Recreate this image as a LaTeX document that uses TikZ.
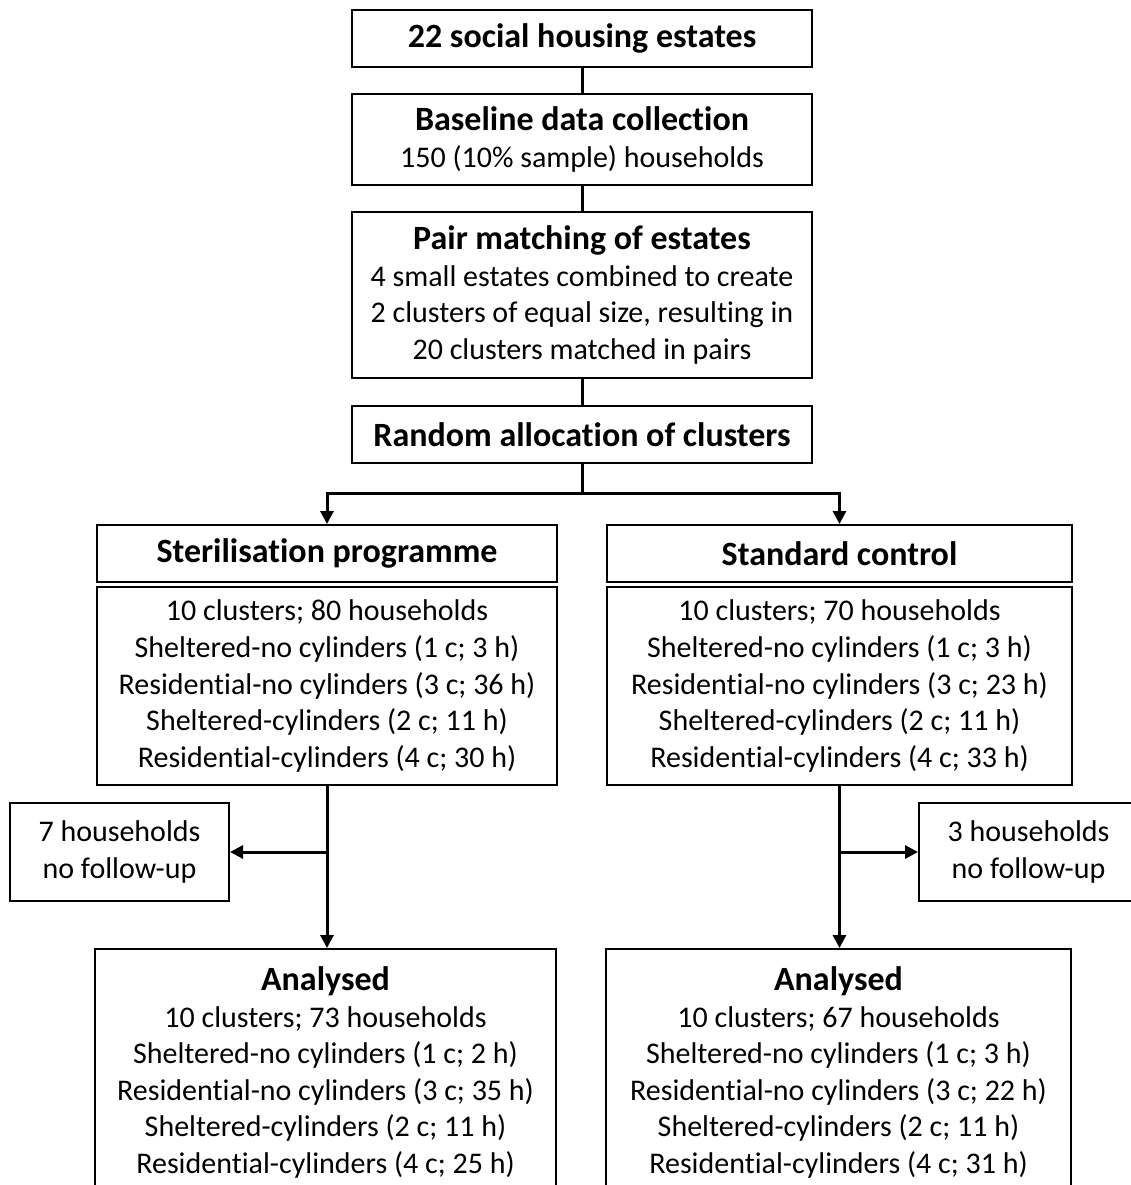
\documentclass[tikz,border=0pt]{standalone}
\usepackage{fontspec}
\setmainfont{Carlito}[Ligatures=NoCommon]
\usetikzlibrary{arrows.meta}

\newcommand\bodyfont{\fontsize{30}{36.6}\selectfont}
\newcommand\hd[1]{{\fontsize{34}{36.6}\selectfont\bfseries #1}}

\tikzset{
  box/.style={draw, line width=2pt, align=center, inner sep=0pt, font=\bodyfont},
  link/.style={line width=3pt},
  arr/.style={link, -{Triangle[length=13pt,width=13pt]}}
}

\begin{document}
\begin{tikzpicture}[x=1pt,y=-1pt]
\clip (0,0) rectangle (1131,1185);

% trunk
\node[box, minimum width=460pt, minimum height=57pt] (estates) at (582,38.5) {\hd{22 social housing estates}};
\node[box, minimum width=460pt, minimum height=91pt] (base) at (582,139.5) {\hd{Baseline data collection}\\150 (10\% sample) households};
\node[box, minimum width=460pt, minimum height=166pt] (pair) at (582,295) {\hd{Pair matching of estates}\\4 small estates combined to create\\2 clusters of equal size, resulting in\\20 clusters matched in pairs};
\node[box, minimum width=460pt, minimum height=57pt] (rand) at (582,434.5) {\hd{Random allocation of clusters}};

% intervention arm
\node[box, minimum width=460pt, minimum height=57pt] (steril) at (327,553.5) {\hd{Sterilisation programme}};
\node[box, minimum width=460pt, minimum height=198pt] (sdet) at (327,686) {10 clusters; 80 households\\Sheltered-no cylinders (1 c; 3 h)\\Residential-no cylinders (3 c; 36 h)\\Sheltered-cylinders (2 c; 11 h)\\Residential-cylinders (4 c; 30 h)};
\node[box, minimum width=219pt, minimum height=98pt] (slost) at (119.5,852) {7 households\\no follow-up};
\node[box, minimum width=461pt, minimum height=247pt] (sana) at (325.5,1072.5) {\hd{Analysed}\\10 clusters; 73 households\\Sheltered-no cylinders (1 c; 2 h)\\Residential-no cylinders (3 c; 35 h)\\Sheltered-cylinders (2 c; 11 h)\\Residential-cylinders (4 c; 25 h)};

% control arm
\node[box, minimum width=465pt, minimum height=57pt] (ctrl) at (839.5,553.5) {\hd{Standard control}};
\node[box, minimum width=465pt, minimum height=198pt] (cdet) at (839.5,686) {10 clusters; 70 households\\Sheltered-no cylinders (1 c; 3 h)\\Residential-no cylinders (3 c; 23 h)\\Sheltered-cylinders (2 c; 11 h)\\Residential-cylinders (4 c; 33 h)};
\node[box, minimum width=219pt, minimum height=98pt] (clost) at (1028.5,852) {3 households\\no follow-up};
\node[box, minimum width=465pt, minimum height=247pt] (cana) at (838.5,1072.5) {\hd{Analysed}\\10 clusters; 67 households\\Sheltered-no cylinders (1 c; 3 h)\\Residential-no cylinders (3 c; 22 h)\\Sheltered-cylinders (2 c; 11 h)\\Residential-cylinders (4 c; 31 h)};

% connectors
\draw[link] (estates) -- (base);
\draw[link] (base) -- (pair);
\draw[link] (pair) -- (rand);
\coordinate (split) at (582,493);
\draw[link] (rand) -- (split);
\draw[arr] (split) -| (steril);
\draw[arr] (split) -| (ctrl);
\draw[arr] (sdet) -- (sdet |- sana.north);
\draw[arr] (sdet |- slost) -- (slost);
\draw[arr] (cdet) -- (cdet |- cana.north);
\draw[arr] (cdet |- clost) -- (clost);
\end{tikzpicture}
\end{document}
